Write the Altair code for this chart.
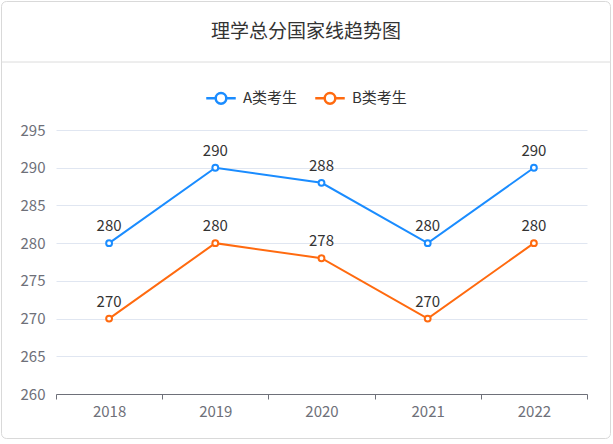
import altair as alt
import pandas as pd

years = ["2018", "2019", "2020", "2021", "2022"]
series_a = [280, 290, 288, 280, 290]
series_b = [270, 280, 278, 270, 280]
series_names = ["A类考生", "B类考生"]
colors = ["#1a8cff", "#ff6a0f"]
y_ticks = [260, 265, 270, 275, 280, 285, 290, 295]
title_text = "理学总分国家线趋势图"

df = pd.DataFrame({
    "year": years * 2,
    "score": series_a + series_b,
    "series": [series_names[0]] * len(years) + [series_names[1]] * len(years),
})

FONT = "Noto Sans CJK SC"
W, H = 531, 264
PL, PT = 56, 130

legend_symbol = ("M-1,0L-0.36,0M0.36,0L1,0M0.36,0A0.36,0.36,0,1,1,-0.36,0"
                 "A0.36,0.36,0,1,1,0.36,0")

color = alt.Color(
    "series:N",
    scale=alt.Scale(domain=series_names, range=colors),
    legend=alt.Legend(
        title=None, orient="none", direction="horizontal",
        legendX=205 - PL, legendY=82 - PT,
        symbolType=legend_symbol, symbolSize=870, symbolStrokeWidth=2.5,
        symbolFillColor="white", labelFontSize=15, labelColor="#333333",
        labelFont=FONT, labelOffset=6, columnPadding=12,
    ),
)

x = alt.X(
    "year:O",
    scale=alt.Scale(type="band", paddingInner=0, paddingOuter=0),
    axis=alt.Axis(title=None, labelAngle=0, tickBand="extent", domainColor="#6E7079",
                  tickColor="#6E7079", tickSize=5, labelColor="#6E7079",
                  labelFontSize=15, labelFont=FONT, labelPadding=5, grid=False),
)
y = alt.Y(
    "score:Q",
    scale=alt.Scale(domain=[260, 295], nice=False, zero=False),
    axis=alt.Axis(title=None, values=y_ticks, domain=False, ticks=False,
                  gridColor="#E0E6F1", labelColor="#6E7079", labelFontSize=15,
                  labelFont=FONT, labelPadding=11),
)

base = alt.Chart(df)
lines = base.mark_line(strokeWidth=2).encode(x=x, y=y, color=color)
points = base.mark_point(filled=True, fill="white", strokeWidth=2, size=34, opacity=1).encode(
    x=x, y=y, stroke=alt.Stroke("series:N", scale=alt.Scale(domain=series_names, range=colors), legend=None)
)
labels = base.mark_text(fontSize=15, color="#333333", font=FONT, baseline="alphabetic", dy=-12).encode(
    x=x, y=y, text="score:Q"
)

one = alt.Chart(pd.DataFrame({"k": [0]}))
sep = one.mark_rule(color="#dcdcdc", strokeWidth=1).encode(
    x=alt.value(1 - PL), x2=alt.value(611 - PL), y=alt.value(62 - PT)
)
border = one.mark_rect(fill=None, stroke="#d9d9d9", strokeWidth=1, cornerRadius=5).encode(
    x=alt.value(1.5 - PL), x2=alt.value(610.5 - PL), y=alt.value(1.5 - PT), y2=alt.value(438.5 - PT)
)
title = one.mark_text(fontSize=19, color="#333333", font=FONT, baseline="middle", align="center").encode(
    x=alt.value(306 - PL), y=alt.value(32 - PT), text=alt.value(title_text)
)

chart = alt.layer(border, sep, title, lines, points, labels).properties(
    width=W, height=H,
    autosize=alt.AutoSizeParams(type="none"),
    padding={"left": PL, "top": PT, "right": 613 - PL - W, "bottom": 444 - PT - H},
    background="white",
).configure_view(stroke=None)

chart.save("out.html", embed_options={"renderer": "svg", "actions": False})
